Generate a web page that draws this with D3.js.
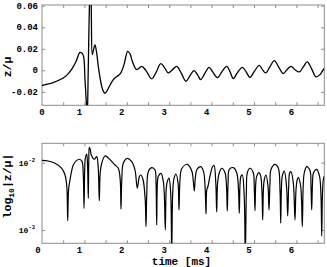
<!DOCTYPE html>
<html><head><meta charset="utf-8">
<script src="https://cdn.jsdelivr.net/npm/d3@7"></script>
<style>body{margin:0;background:#fff} svg{display:block}</style>
</head><body>
<script>
// ---- data (time in ms) ----
const topTime = [0,0.26,0.50,0.61,0.71,0.80,0.896,0.94,0.98,1.014,1.050,1.066,1.092,1.120,1.139,1.160,1.186,1.215,1.25,1.285,1.328,1.368,1.408,1.450,1.486,1.533,1.580,1.682,1.745,1.80,1.863,1.934,2.021,2.075,2.134,2.233,2.351,2.453,2.587,2.689,2.800,2.889,2.979,3.078,3.177,3.290,3.396,3.491,3.585,3.667,3.743,3.844,3.939,4.021,4.139,4.245,4.356,4.434,4.512,4.611,4.724,4.811,4.906,5.012,5.125,5.200,5.276,5.377,5.479,5.590,5.691,5.778,5.873,5.967,6.068,6.167,6.257,6.356,6.462,6.557,6.634,6.658];
const topZ = [-0.0141,-0.0114,-0.0072,-0.0035,0.0016,0.0080,0.0166,0.0160,0.0130,-0.0086,-0.0330,-0.0450,0.0037,0.0607,0.0750,0.0607,0.0145,0.0190,0.0237,0.0173,0.0037,-0.0067,-0.0148,-0.0197,-0.0213,-0.0192,-0.0155,-0.0086,-0.0063,-0.0049,-0.0021,0.0053,0.0176,0.0154,0.0080,0.0006,0.0037,-0.0003,-0.0079,-0.0021,0.0062,0.0025,-0.0024,0.0006,0.0037,-0.0030,-0.0102,-0.0049,-0.0003,-0.0040,-0.0086,-0.0026,0.0028,-0.0012,-0.0067,-0.0012,0.0037,-0.0012,-0.0077,-0.0021,0.0028,-0.0012,-0.0065,-0.0007,0.0046,0.0006,-0.0024,0.0034,0.0090,0.0025,-0.0030,0.0006,0.0037,0.0006,-0.0015,0.0034,0.0078,0.0016,-0.0061,-0.0040,0.0006,0.0016];

const botTime = [0,0.142,0.307,0.465,0.542,0.585,0.606,0.627,0.660,0.738,0.814,0.880,0.943,0.972,0.991,1.007,1.021,1.054,1.075,1.092,1.104,1.116,1.137,1.163,1.233,1.290,1.328,1.351,1.373,1.408,1.486,1.564,1.722,1.800,1.844,1.863,1.882,1.917,2.012,2.116,2.193,2.248,2.295,2.328,2.382,2.434,2.453,2.472,2.507,2.587,2.665,2.689,2.705,2.722,2.743,2.807,2.866,2.908,2.929,2.955,2.995,3.035,3.059,3.083,3.113,3.160,3.208,3.231,3.255,3.295,3.427,3.531,3.573,3.592,3.613,3.656,3.743,3.809,3.849,3.868,3.887,3.915,3.962,4.021,4.057,4.099,4.120,4.142,4.182,4.238,4.316,4.351,4.370,4.389,4.417,4.512,4.592,4.634,4.653,4.672,4.693,4.724,4.769,4.795,4.821,4.842,4.906,4.983,5.005,5.024,5.042,5.064,5.118,5.158,5.189,5.205,5.222,5.243,5.283,5.330,5.354,5.377,5.401,5.495,5.573,5.613,5.630,5.646,5.667,5.715,5.767,5.795,5.818,5.842,5.873,5.927,5.967,5.991,6.021,6.045,6.101,6.139,6.160,6.186,6.243,6.321,6.344,6.361,6.380,6.403,6.479,6.545,6.580,6.597,6.613,6.634,6.658];
const botLogZ = [-1.965,-1.975,-2.009,-2.083,-2.18,-2.35,-2.862,-2.40,-2.257,-2.034,-1.97,-1.949,-1.98,-2.15,-2.678,-2.10,-1.935,-1.871,-2.05,-2.529,-1.95,-1.771,-1.80,-1.886,-1.949,-1.911,-2.1,-2.565,-2.15,-2.009,-1.90,-1.93,-2.034,-2.083,-2.25,-2.692,-2.25,-2.009,-1.935,-1.985,-2.108,-2.380,-2.208,-2.183,-2.25,-2.55,-2.951,-2.45,-2.134,-2.074,-2.108,-2.3,-2.926,-2.3,-2.2,-2.158,-2.3,-3.0,-2.4,-2.282,-2.23,-2.45,-3.35,-2.45,-2.232,-2.168,-2.3,-2.703,-2.25,-2.09,-2.024,-2.12,-2.3,-2.420,-2.25,-2.1,-2.059,-2.13,-2.4,-2.762,-2.4,-2.35,-2.2,-2.06,-2.04,-2.3,-2.732,-2.3,-2.15,-2.083,-2.15,-2.35,-2.718,-2.3,-2.1,-2.074,-2.15,-2.4,-2.752,-2.3,-2.2,-2.183,-2.5,-3.4,-2.4,-2.15,-2.083,-2.15,-2.35,-2.713,-2.3,-2.2,-2.149,-2.2,-2.45,-2.851,-2.4,-2.25,-2.183,-2.35,-2.703,-2.3,-2.1,-2.024,-2.08,-2.4,-2.900,-2.4,-2.2,-2.125,-2.35,-2.792,-2.35,-2.15,-2.134,-2.3,-2.851,-2.4,-2.25,-2.217,-2.35,-2.951,-2.35,-2.15,-2.059,-2.12,-2.35,-2.703,-2.3,-2.15,-2.099,-2.2,-2.5,-3.089,-2.5,-2.257,-2.2];

const xTickLabels = [0,1,2,3,4,5,6];
const xMinorTicks = [0.5,1,1.5,2,2.5,3,3.5,4,4.5,5,5.5,6,6.5];
const topYTicks = [-0.02,0,0.02,0.04,0.06];
const topYLabels = ["-0.02","0","0.02","0.04","0.06"];
const botYTicks = [-3,-2];
const botYExps = ["-3","-2"];

// ---- layout ----
const W = 327, H = 267;
const L = 42, R = 324.3;
const topPanel = {t:5, b:105.3};
const botPanel = {t:143.3, b:243.3};
const mono = "'Liberation Mono', 'DejaVu Sans Mono', monospace";

const svg = d3.select("body").append("svg").attr("width", W).attr("height", H);

const x = d3.scaleLinear().domain([0, 6.658]).range([L, R]);
const yTop = d3.scaleLinear().domain([-0.0325, 0.0607]).range([topPanel.b, topPanel.t]);
const yBot = d3.scaleLinear().domain([-3.198, -1.712]).range([botPanel.b, botPanel.t]);

const defs = svg.append("defs");
defs.append("clipPath").attr("id","clipTop").append("rect")
  .attr("x", L).attr("y", topPanel.t).attr("width", R-L).attr("height", topPanel.b-topPanel.t);
defs.append("clipPath").attr("id","clipBot").append("rect")
  .attr("x", L).attr("y", botPanel.t).attr("width", R-L).attr("height", botPanel.b-botPanel.t);

const frameCol = "#8c8c8c";

function drawFrame(p, yScale, yTicks) {
  const g = svg.append("g");
  g.append("g").attr("transform", `translate(0,${p.b})`)
    .call(d3.axisBottom(x).tickValues(xMinorTicks).tickSize(-3).tickFormat(""))
    .call(a => a.select(".domain").remove());
  g.append("g").attr("transform", `translate(0,${p.t})`)
    .call(d3.axisTop(x).tickValues(xMinorTicks).tickSize(-3).tickFormat(""))
    .call(a => a.select(".domain").remove());
  g.append("g").attr("transform", `translate(${L},0)`)
    .call(d3.axisLeft(yScale).tickValues(yTicks).tickSize(-3).tickFormat(""))
    .call(a => a.select(".domain").remove());
  g.append("g").attr("transform", `translate(${R},0)`)
    .call(d3.axisRight(yScale).tickValues(yTicks).tickSize(-3).tickFormat(""))
    .call(a => a.select(".domain").remove());
  g.selectAll(".tick line").attr("stroke", frameCol).attr("stroke-width", 1);
  g.append("rect").attr("x", L).attr("y", p.t).attr("width", R-L).attr("height", p.b-p.t)
    .attr("fill","none").attr("stroke", frameCol).attr("stroke-width", 1);
}

drawFrame(topPanel, yTop, topYTicks);
drawFrame(botPanel, yBot, botYTicks);

function xLabels(yPos, zeroShift) {
  svg.append("g").selectAll("text").data(xTickLabels).join("text")
    .attr("x", d => x(d) + (d === 0 ? zeroShift : -5))
    .attr("y", yPos)
    .attr("text-anchor","middle")
    .attr("font-family", mono).attr("font-weight","bold").attr("font-size", 9)
    .text(d => d);
}
xLabels(115, 0);
xLabels(253, -4);

svg.append("g").selectAll("text").data(topYTicks).join("text")
  .attr("x", 38).attr("y", d => yTop(d) + 3)
  .attr("text-anchor","end")
  .attr("font-family", mono).attr("font-weight","bold").attr("font-size", 9)
  .text((d,i) => topYLabels[i]);

const bl = svg.append("g").selectAll("text").data(botYTicks).join("text")
  .attr("x", 35).attr("y", d => yBot(d) + 3)
  .attr("text-anchor","end")
  .attr("font-family", mono).attr("font-weight","bold").attr("font-size", 8);
bl.append("tspan").text("10");
bl.append("tspan").attr("dy", -4).attr("font-size", 5.5).text((d,i) => botYExps[i]);

svg.append("text").attr("transform","translate(11,67) rotate(-90)")
  .attr("text-anchor","middle").attr("font-family", mono).attr("font-weight","bold")
  .attr("font-size", 11.5).text("z/μ");
const yl = svg.append("text").attr("transform","translate(11,186) rotate(-90)")
  .attr("text-anchor","middle").attr("font-family", mono).attr("font-weight","bold")
  .attr("font-size", 11.5);
yl.append("tspan").text("log");
yl.append("tspan").attr("dy", 3).attr("font-size", 8).text("10");
yl.append("tspan").attr("dy", -3).text("|z/μ|");
svg.append("text").attr("x", 181.5).attr("y", 265)
  .attr("text-anchor","middle").attr("font-family", mono).attr("font-weight","bold")
  .attr("font-size", 11).text("time [ms]");

const topData = topTime.map((t,i) => [t, topZ[i]]);
const botData = botTime.map((t,i) => [t, botLogZ[i]]);

svg.append("path").datum(topData).attr("clip-path","url(#clipTop)")
  .attr("fill","none").attr("stroke","#000").attr("stroke-width",1.3)
  .attr("d", d3.line().x(d => x(d[0])).y(d => yTop(d[1])).curve(d3.curveCatmullRom.alpha(0.5)));
svg.append("path").datum(botData).attr("clip-path","url(#clipBot)")
  .attr("fill","none").attr("stroke","#000").attr("stroke-width",1.2)
  .attr("d", d3.line().x(d => x(d[0])).y(d => yBot(d[1])).curve(d3.curveCatmullRom.alpha(0.5)));
</script>
</body></html>
